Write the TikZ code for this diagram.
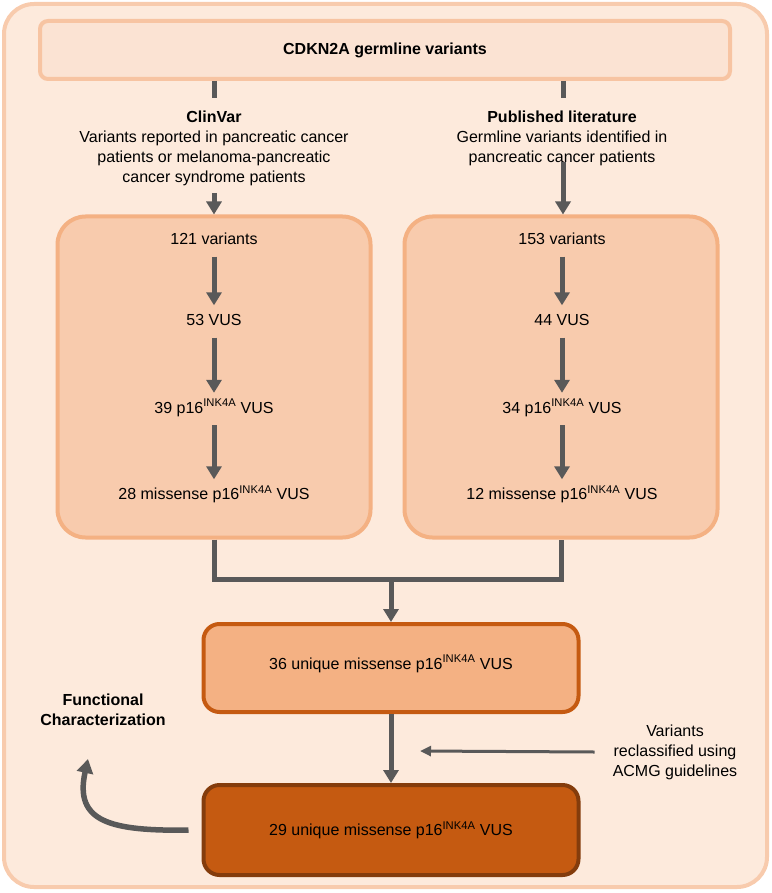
\documentclass[tikz,border=0pt]{standalone}
\usepackage{fontspec}
\setmainfont{Liberation Sans}
\usepackage{tikz}
\tikzset{>=latex}
\usetikzlibrary{arrows.meta,calc,positioning}

\definecolor{pagefill}{HTML}{FDEADC}
\definecolor{pageline}{HTML}{F8CBAD}
\definecolor{titlefill}{HTML}{FBE3D3}
\definecolor{titleline}{HTML}{F7C4A2}
\definecolor{srcfill}{HTML}{F8CBAD}
\definecolor{srcline}{HTML}{F4B183}
\definecolor{midfill}{HTML}{F4B183}
\definecolor{midline}{HTML}{C55A11}
\definecolor{botfill}{HTML}{C55A11}
\definecolor{botline}{HTML}{843C0C}
\definecolor{arrowgray}{HTML}{595959}

\begin{document}
\begin{tikzpicture}[x=1pt,y=-1pt,
    every node/.style={font=\fontsize{16}{20}\selectfont, align=center},
    titlebox/.style={draw=titleline, fill=titlefill, line width=4pt, rounded corners=8pt,
        minimum width=690pt, minimum height=58pt, font=\fontsize{16}{20}\selectfont\bfseries},
    srcbox/.style={draw=srcline, fill=srcfill, line width=4pt, rounded corners=28pt,
        minimum width=313pt, minimum height=321pt},
    uniqbox/.style={line width=4pt, rounded corners=16pt,
        minimum width=375pt, minimum height=88pt},
    stepnode/.style={inner xsep=2pt, inner ysep=8pt, text height=12pt, text depth=4pt},
    conn/.style={draw=arrowgray, line width=5pt},
    bigarrow/.style={conn, -{Triangle[width=15pt,length=13pt]}},
    thinarrow/.style={draw=arrowgray, line width=3pt, -{Triangle[width=10pt,length=11pt]}},
    curvearrow/.style={draw=arrowgray, line width=5.5pt, -{Triangle[width=16pt,length=14pt]}}
  ]
  \useasboundingbox (0,0) rectangle (771,893);
  \draw[draw=pageline, fill=pagefill, line width=4pt, rounded corners=30pt] (4,4) rectangle (767,887);

  \node[titlebox] (title) at (385,50) {CDKN2A germline variants};

  \node (clin) at (214,148) {\textbf{ClinVar}\\Variants reported in pancreatic cancer\\patients or melanoma-pancreatic\\cancer syndrome patients};
  \node (pub) at (562,138) {\textbf{Published literature}\\Germline variants identified in\\pancreatic cancer patients};

  \coordinate (clinstub) at (214,98);
  \coordinate (pubstub) at (563,98);
  \draw[conn] (title.south -| clinstub) -- (clinstub);
  \draw[conn] (title.south -| pubstub) -- (pubstub);

  \node[srcbox] (lbox) at (214,377) {};
  \node[srcbox] (rbox) at (561,377) {};

  \coordinate (clinarr) at (214,193);
  \coordinate (pubarr) at (563,162);
  \draw[bigarrow] (clinarr) -- (lbox.north -| clinarr);
  \draw[bigarrow] (pubarr) -- (rbox.north -| pubarr);

  \node[stepnode] (l1) at (214,240.5) {121 variants};
  \node[stepnode] (l2) at (214,321.5) {53 VUS};
  \node[stepnode] (l3) at (214,409) {39 p16\textsuperscript{INK4A} VUS};
  \node[stepnode] (l4) at (214,495.5) {28 missense p16\textsuperscript{INK4A} VUS};
  \draw[bigarrow] (l1) -- (l2);
  \draw[bigarrow] (l2) -- (l3);
  \draw[bigarrow] (l3) -- (l4);

  \node[stepnode] (r1) at (562,240.5) {153 variants};
  \node[stepnode] (r2) at (562,321.5) {44 VUS};
  \node[stepnode] (r3) at (562,409) {34 p16\textsuperscript{INK4A} VUS};
  \node[stepnode] (r4) at (562,495.5) {12 missense p16\textsuperscript{INK4A} VUS};
  \draw[bigarrow] (r1) -- (r2);
  \draw[bigarrow] (r2) -- (r3);
  \draw[bigarrow] (r3) -- (r4);

  \node[uniqbox, draw=midline, fill=midfill, text height=12pt, text depth=10pt] (mid) at (391,668) {36 unique missense p16\textsuperscript{INK4A} VUS};
  \node[uniqbox, draw=botline, fill=botfill, minimum height=90pt] (bot) at (391,830) {29 unique missense p16\textsuperscript{INK4A} VUS};

  \coordinate (merge) at (391,579);
  \draw[conn] (lbox.south) |- (merge) -| (rbox.south);
  \draw[bigarrow] (merge) -- (mid.north);
  \draw[bigarrow] (mid.south) -- (bot.north);

  \node[inner xsep=18pt] (recl) at (675,752) {Variants\\reclassified using\\ACMG guidelines};
  \coordinate (recltip) at (420,751);
  \draw[thinarrow] (recl.west) -- (recltip);

  \node[font=\fontsize{16}{20}\selectfont\bfseries] (func) at (103,710) {Functional\\Characterization};
  \coordinate (functip) at (88,759);
  \draw[curvearrow, shorten <=13pt] (bot.west) .. controls (110,831) and (74,822) .. (functip);
\end{tikzpicture}
\end{document}
